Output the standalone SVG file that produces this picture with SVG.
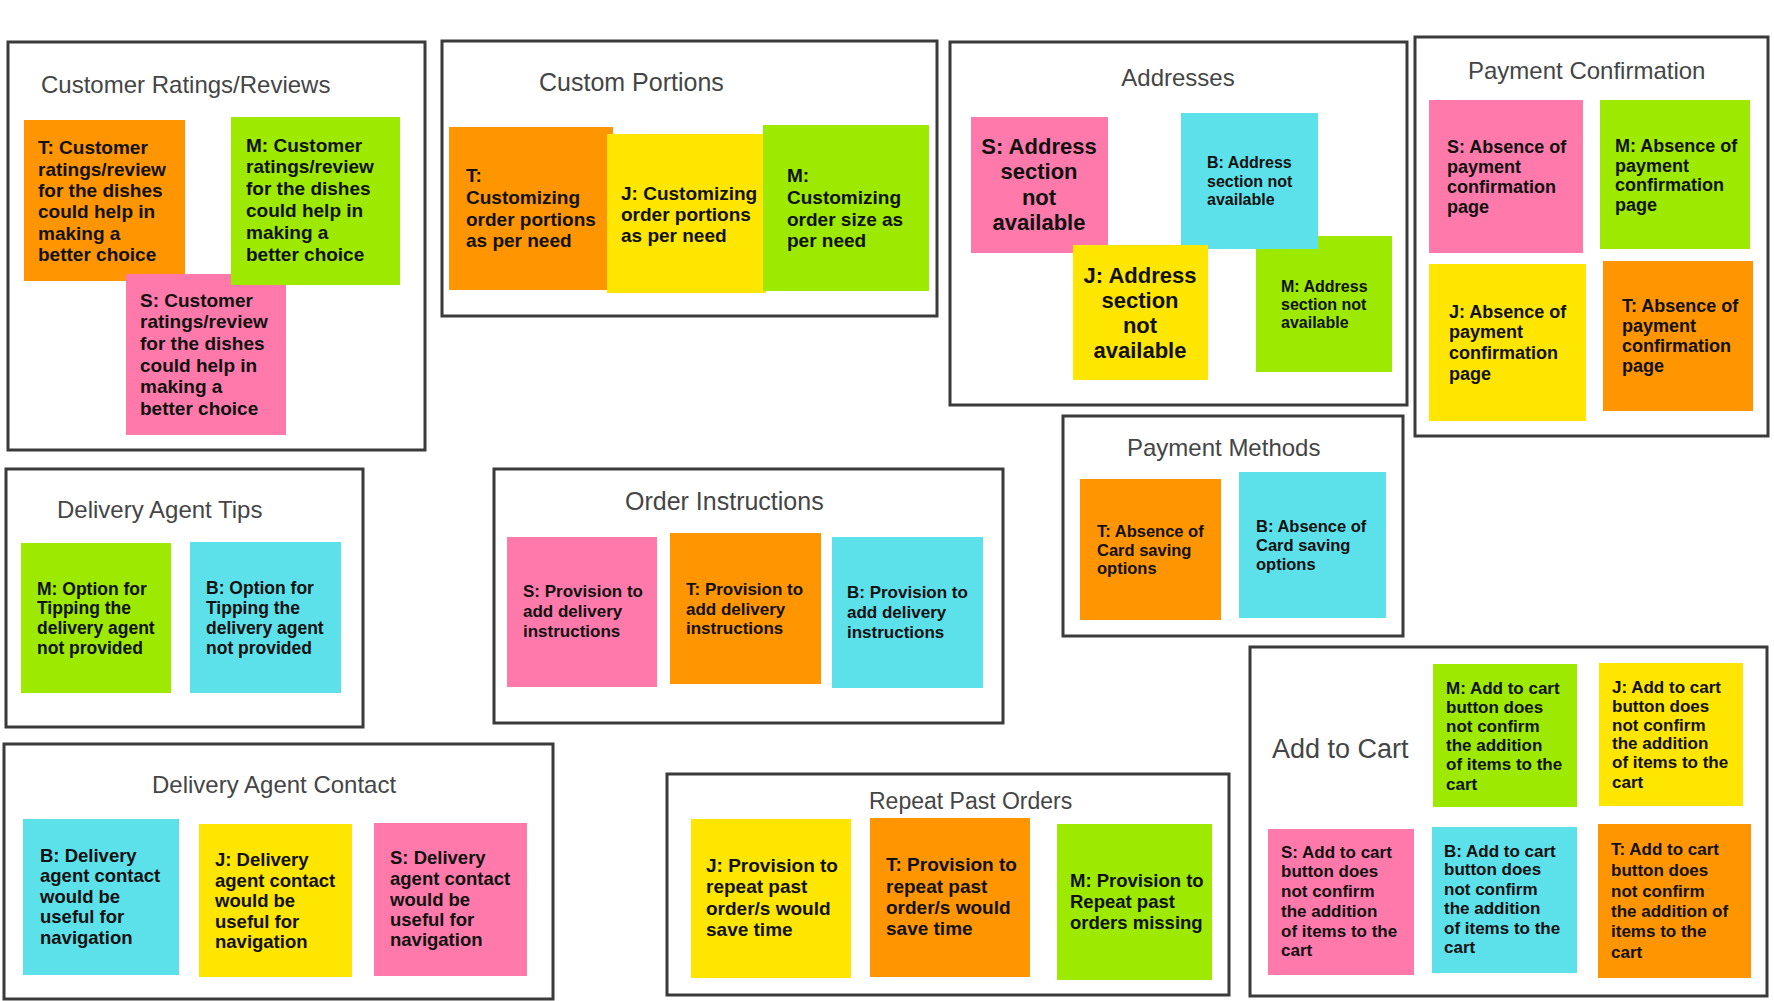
<svg xmlns="http://www.w3.org/2000/svg" width="1774" height="1001" viewBox="0 0 1774 1001">
<style>
.frame{fill:#fff;stroke:#3a3a3a;stroke-width:3}
.title{font-family:"Liberation Sans",Arial,sans-serif;fill:#454545;font-size:24px}
.n{font-family:"Liberation Sans",Arial,sans-serif;font-weight:bold;fill:#111}
.o{fill:#FF9500}
.g{fill:#9DEA00}
.p{fill:#FF7AAB}
.y{fill:#FFE600}
.c{fill:#5CE1EA}
.s19{font-size:19px}
.s18{font-size:18px}
.s17{font-size:17px}
.s16{font-size:16px}
.s22{font-size:22px}
.mid{text-anchor:middle}
</style>
<rect width="1774" height="1001" fill="#fff"/>

<g id="customer-ratings">
<rect class="frame" x="8" y="42" width="417" height="408"/>
<text class="title" x="41" y="93">Customer Ratings/Reviews</text>
<g id="cr-t"><rect class="o" x="24" y="120" width="161" height="161"/>
<text class="n s19" x="38"><tspan x="38" y="154">T: Customer</tspan><tspan x="38" y="176">ratings/review</tspan><tspan x="38" y="197">for the dishes</tspan><tspan x="38" y="218">could help in</tspan><tspan x="38" y="240">making a</tspan><tspan x="38" y="261">better choice</tspan></text></g>
<g id="cr-s"><rect class="p" x="126" y="274" width="160" height="161"/>
<text class="n s19"><tspan x="140" y="307">S: Customer</tspan><tspan x="140" y="328">ratings/review</tspan><tspan x="140" y="350">for the dishes</tspan><tspan x="140" y="372">could help in</tspan><tspan x="140" y="393">making a</tspan><tspan x="140" y="415">better choice</tspan></text></g>
<g id="cr-m"><rect class="g" x="231" y="117" width="169" height="168"/>
<text class="n s19"><tspan x="246" y="152">M: Customer</tspan><tspan x="246" y="173">ratings/review</tspan><tspan x="246" y="195">for the dishes</tspan><tspan x="246" y="217">could help in</tspan><tspan x="246" y="239">making a</tspan><tspan x="246" y="261">better choice</tspan></text></g>
</g>

<g id="custom-portions">
<rect class="frame" x="442" y="41" width="495" height="275"/>
<text class="title" x="539" y="91" style="font-size:25px">Custom Portions</text>
<g id="cp-t"><rect class="o" x="449" y="127" width="164" height="163"/>
<text class="n s19"><tspan x="466" y="182">T:</tspan><tspan x="466" y="204">Customizing</tspan><tspan x="466" y="226">order portions</tspan><tspan x="466" y="247">as per need</tspan></text></g>
<g id="cp-j"><rect class="y" x="607" y="134" width="159" height="159"/>
<text class="n s19"><tspan x="621" y="200">J: Customizing</tspan><tspan x="621" y="221">order portions</tspan><tspan x="621" y="242">as per need</tspan></text></g>
<g id="cp-m"><rect class="g" x="763" y="125" width="166" height="166"/>
<text class="n s19"><tspan x="787" y="182">M:</tspan><tspan x="787" y="204">Customizing</tspan><tspan x="787" y="226">order size as</tspan><tspan x="787" y="247">per need</tspan></text></g>
</g>

<g id="addresses">
<rect class="frame" x="950" y="42" width="457" height="363"/>
<text class="title mid" x="1178" y="86">Addresses</text>
<g id="ad-s"><rect class="p" x="971" y="117" width="137" height="136"/>
<text class="n s22 mid"><tspan x="1039" y="154">S: Address</tspan><tspan x="1039" y="179">section</tspan><tspan x="1039" y="205">not</tspan><tspan x="1039" y="230">available</tspan></text></g>
<g id="ad-m"><rect class="g" x="1256" y="236" width="136" height="136"/>
<text class="n s16"><tspan x="1281" y="292">M: Address</tspan><tspan x="1281" y="310">section not</tspan><tspan x="1281" y="328">available</tspan></text></g>
<g id="ad-b"><rect class="c" x="1181" y="113" width="137" height="136"/>
<text class="n s16"><tspan x="1207" y="168">B: Address</tspan><tspan x="1207" y="187">section not</tspan><tspan x="1207" y="205">available</tspan></text></g>
<g id="ad-j"><rect class="y" x="1073" y="245" width="135" height="135"/>
<text class="n s22 mid"><tspan x="1140" y="283">J: Address</tspan><tspan x="1140" y="308">section</tspan><tspan x="1140" y="333">not</tspan><tspan x="1140" y="358">available</tspan></text></g>
</g>

<g id="payment-confirmation">
<rect class="frame" x="1415" y="37" width="353" height="399"/>
<text class="title" x="1468" y="79">Payment Confirmation</text>
<g id="pc-s"><rect class="p" x="1429" y="100" width="154" height="153"/>
<text class="n s18"><tspan x="1447" y="153">S: Absence of</tspan><tspan x="1447" y="173">payment</tspan><tspan x="1447" y="193">confirmation</tspan><tspan x="1447" y="213">page</tspan></text></g>
<g id="pc-m"><rect class="g" x="1600" y="100" width="150" height="149"/>
<text class="n s18"><tspan x="1615" y="152">M: Absence of</tspan><tspan x="1615" y="172">payment</tspan><tspan x="1615" y="191">confirmation</tspan><tspan x="1615" y="211">page</tspan></text></g>
<g id="pc-j"><rect class="y" x="1429" y="264" width="157" height="157"/>
<text class="n s18"><tspan x="1449" y="318">J: Absence of</tspan><tspan x="1449" y="338">payment</tspan><tspan x="1449" y="359">confirmation</tspan><tspan x="1449" y="380">page</tspan></text></g>
<g id="pc-t"><rect class="o" x="1603" y="261" width="150" height="150"/>
<text class="n s18"><tspan x="1622" y="312">T: Absence of</tspan><tspan x="1622" y="332">payment</tspan><tspan x="1622" y="352">confirmation</tspan><tspan x="1622" y="372">page</tspan></text></g>
</g>

<g id="delivery-agent-tips">
<rect class="frame" x="6" y="469" width="357" height="258"/>
<text class="title" x="57" y="518">Delivery Agent Tips</text>
<g id="dt-m"><rect class="g" x="21" y="543" width="150" height="150"/>
<text class="n" style="font-size:17.5px"><tspan x="37" y="595">M: Option for</tspan><tspan x="37" y="614">Tipping the</tspan><tspan x="37" y="634">delivery agent</tspan><tspan x="37" y="654">not provided</tspan></text></g>
<g id="dt-b"><rect class="c" x="190" y="542" width="151" height="151"/>
<text class="n" style="font-size:17.5px"><tspan x="206" y="594">B: Option for</tspan><tspan x="206" y="614">Tipping the</tspan><tspan x="206" y="634">delivery agent</tspan><tspan x="206" y="654">not provided</tspan></text></g>
</g>

<g id="order-instructions">
<rect class="frame" x="494" y="469" width="509" height="254"/>
<text class="title" x="625" y="510" style="font-size:25px">Order Instructions</text>
<g id="oi-s"><rect class="p" x="507" y="537" width="150" height="150"/>
<text class="n s17"><tspan x="523" y="597">S: Provision to</tspan><tspan x="523" y="617">add delivery</tspan><tspan x="523" y="637">instructions</tspan></text></g>
<g id="oi-t"><rect class="o" x="670" y="533" width="151" height="151"/>
<text class="n s17"><tspan x="686" y="595">T: Provision to</tspan><tspan x="686" y="615">add delivery</tspan><tspan x="686" y="634">instructions</tspan></text></g>
<g id="oi-b"><rect class="c" x="832" y="537" width="151" height="151"/>
<text class="n s17"><tspan x="847" y="598">B: Provision to</tspan><tspan x="847" y="618">add delivery</tspan><tspan x="847" y="638">instructions</tspan></text></g>
</g>

<g id="payment-methods">
<rect class="frame" x="1063" y="416" width="340" height="220"/>
<text class="title" x="1127" y="456">Payment Methods</text>
<g id="pm-t"><rect class="o" x="1080" y="479" width="141" height="141"/>
<text class="n" style="font-size:16.5px"><tspan x="1097" y="537">T: Absence of</tspan><tspan x="1097" y="556">Card saving</tspan><tspan x="1097" y="574">options</tspan></text></g>
<g id="pm-b"><rect class="c" x="1239" y="472" width="147" height="146"/>
<text class="n" style="font-size:16.5px"><tspan x="1256" y="532">B: Absence of</tspan><tspan x="1256" y="551">Card saving</tspan><tspan x="1256" y="570">options</tspan></text></g>
</g>

<g id="delivery-agent-contact">
<rect class="frame" x="4" y="744" width="549" height="255"/>
<text class="title" x="152" y="793">Delivery Agent Contact</text>
<g id="dc-b"><rect class="c" x="23" y="819" width="156" height="156"/>
<text class="n" style="font-size:18.5px"><tspan x="40" y="862">B: Delivery</tspan><tspan x="40" y="882">agent contact</tspan><tspan x="40" y="903">would be</tspan><tspan x="40" y="923">useful for</tspan><tspan x="40" y="944">navigation</tspan></text></g>
<g id="dc-j"><rect class="y" x="199" y="824" width="153" height="153"/>
<text class="n" style="font-size:18.5px"><tspan x="215" y="866">J: Delivery</tspan><tspan x="215" y="887">agent contact</tspan><tspan x="215" y="907">would be</tspan><tspan x="215" y="928">useful for</tspan><tspan x="215" y="948">navigation</tspan></text></g>
<g id="dc-s"><rect class="p" x="374" y="823" width="153" height="153"/>
<text class="n" style="font-size:18.5px"><tspan x="390" y="864">S: Delivery</tspan><tspan x="390" y="885">agent contact</tspan><tspan x="390" y="906">would be</tspan><tspan x="390" y="926">useful for</tspan><tspan x="390" y="946">navigation</tspan></text></g>
</g>

<g id="repeat-past-orders">
<rect class="frame" x="667" y="774" width="562" height="221"/>
<text class="title" x="869" y="809" style="font-size:23px">Repeat Past Orders</text>
<g id="rp-j"><rect class="y" x="691" y="819" width="160" height="159"/>
<text class="n s19"><tspan x="706" y="872">J: Provision to</tspan><tspan x="706" y="893">repeat past</tspan><tspan x="706" y="915">order/s would</tspan><tspan x="706" y="936">save time</tspan></text></g>
<g id="rp-t"><rect class="o" x="870" y="818" width="160" height="159"/>
<text class="n s19"><tspan x="886" y="871">T: Provision to</tspan><tspan x="886" y="893">repeat past</tspan><tspan x="886" y="914">order/s would</tspan><tspan x="886" y="935">save time</tspan></text></g>
<g id="rp-m"><rect class="g" x="1057" y="824" width="155" height="156"/>
<text class="n" style="font-size:18.5px"><tspan x="1070" y="887">M: Provision to</tspan><tspan x="1070" y="908">Repeat past</tspan><tspan x="1070" y="929">orders missing</tspan></text></g>
</g>

<g id="add-to-cart">
<rect class="frame" x="1250" y="647" width="517" height="349"/>
<text class="title" x="1272" y="758" style="font-size:27px">Add to Cart</text>
<g id="ac-m"><rect class="g" x="1433" y="664" width="144" height="143"/>
<text class="n s17"><tspan x="1446" y="694">M: Add to cart</tspan><tspan x="1446" y="713">button does</tspan><tspan x="1446" y="732">not confirm</tspan><tspan x="1446" y="751">the addition</tspan><tspan x="1446" y="770">of items to the</tspan><tspan x="1446" y="790">cart</tspan></text></g>
<g id="ac-j"><rect class="y" x="1599" y="663" width="144" height="143"/>
<text class="n s17"><tspan x="1612" y="693">J: Add to cart</tspan><tspan x="1612" y="712">button does</tspan><tspan x="1612" y="731">not confirm</tspan><tspan x="1612" y="749">the addition</tspan><tspan x="1612" y="768">of items to the</tspan><tspan x="1612" y="788">cart</tspan></text></g>
<g id="ac-s"><rect class="p" x="1268" y="829" width="146" height="146"/>
<text class="n s17"><tspan x="1281" y="858">S: Add to cart</tspan><tspan x="1281" y="877">button does</tspan><tspan x="1281" y="897">not confirm</tspan><tspan x="1281" y="917">the addition</tspan><tspan x="1281" y="937">of items to the</tspan><tspan x="1281" y="956">cart</tspan></text></g>
<g id="ac-b"><rect class="c" x="1432" y="827" width="145" height="146"/>
<text class="n s17"><tspan x="1444" y="857">B: Add to cart</tspan><tspan x="1444" y="875">button does</tspan><tspan x="1444" y="895">not confirm</tspan><tspan x="1444" y="914">the addition</tspan><tspan x="1444" y="934">of items to the</tspan><tspan x="1444" y="953">cart</tspan></text></g>
<g id="ac-t"><rect class="o" x="1598" y="824" width="153" height="154"/>
<text class="n s17"><tspan x="1611" y="855">T: Add to cart</tspan><tspan x="1611" y="876">button does</tspan><tspan x="1611" y="897">not confirm</tspan><tspan x="1611" y="917">the addition of</tspan><tspan x="1611" y="937">items to the</tspan><tspan x="1611" y="958">cart</tspan></text></g>
</g>

<g id="connectors"/>
</svg>
